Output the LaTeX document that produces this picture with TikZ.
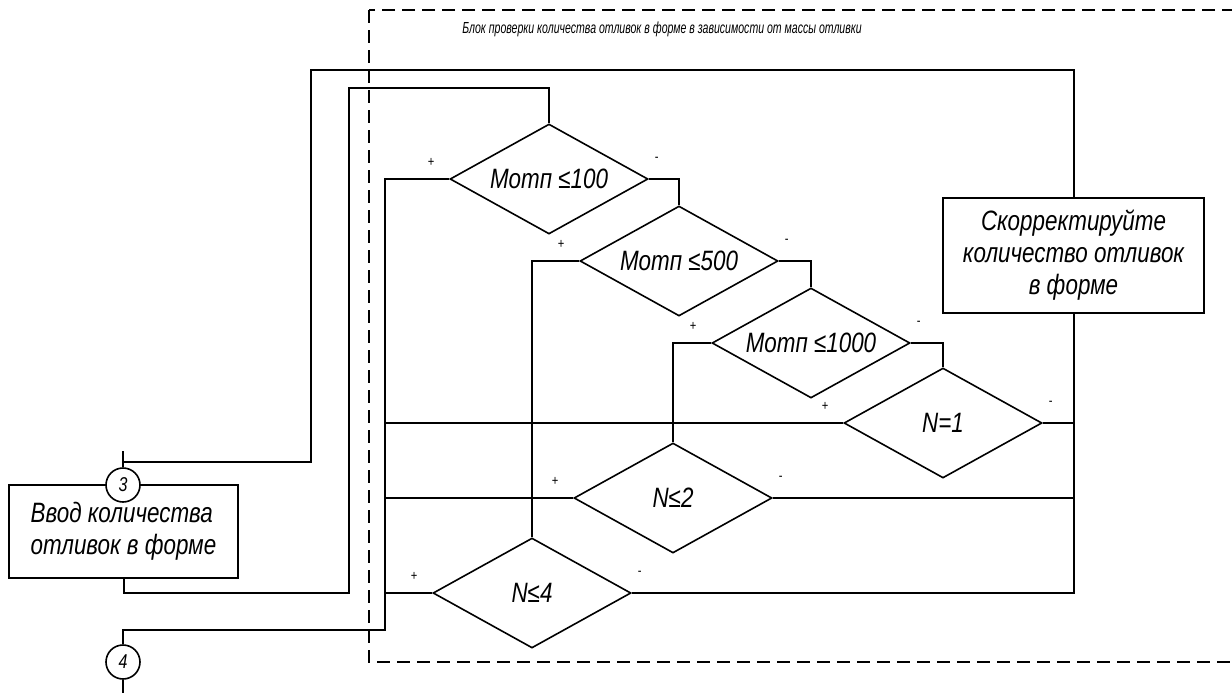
\documentclass[tikz,border=0pt]{standalone}
\usepackage{fontspec}
\setmainfont{Liberation Sans}[FakeStretch=0.8]
\newfontfamily\titlefont[FakeStretch=0.66]{Liberation Sans}
\usetikzlibrary{shapes.geometric}

\tikzset{
  ln/.style={line width=1pt},
  cond/.style={draw, diamond, aspect=1.8, inner sep=0pt, line width=0.8pt,
    minimum width=99pt, minimum height=55pt, font=\fontsize{14}{16}\selectfont\itshape},
  blk/.style={draw, rectangle, line width=1pt, inner sep=0pt,
    font=\fontsize{14}{16}\selectfont\itshape},
  conn/.style={draw, circle, fill=white, line width=0.8pt, minimum size=17pt, inner sep=0pt,
    font=\fontsize{10}{12}\selectfont\itshape},
  sign/.style={inner sep=0pt, font=\fontsize{7}{8}\selectfont},
  frame/.style={dash pattern=on 6.5pt off 3.5pt, line width=1pt}
}

\begin{document}
\begin{tikzpicture}[x=0.5pt, y=-0.5pt]
	\useasboundingbox (0,0) rectangle (1232,692);
	\clip (0,0) rectangle (1232,692);
	
	% 1. рамка блока и заголовок
	\draw[frame] (369,10) rectangle (1260,662);
	\node[font=\titlefont\fontsize{8}{9}\selectfont\itshape] (title) at (662,29)
		{Блок проверки количества отливок в форме в зависимости от массы отливки};
	
	% 2. вспомогательные вертикали
	\coordinate (lft) at (385,0);
	\coordinate (rgt) at (1075,0);
	
	% 3. блоки и соединители
	\node[blk, minimum width=114.5pt, minimum height=46.5pt, align=left] (inp) at (123.5,531.5)
		{Ввод количества\\отливок в форме};
	\node[blk, minimum width=130.5pt, minimum height=57.5pt, align=center] (corr) at (1073.5,255.5)
		{Скорректируйте\\количество отливок\\в форме};
	\node[conn] (c3) at (123,485) {3};
	\node[conn] (c4) at (123,662) {4};
	
	% 4. условия
	\node[cond] (d1) at (549,179) {Мотп ≤100};
	\node[cond] (d2) at (679,261) {Мотп ≤500};
	\node[cond] (d3) at (811,343) {Мотп ≤1000};
	\node[cond] (d4) at (943,423) {N=1};
	\node[cond] (d5) at (673,498) {N≤2};
	\node[cond] (d6) at (532,593) {N≤4};
	
	% 5. знаки ветвей
	\foreach \d in {d1,d2,d3,d4,d5,d6} {
		\node[sign] (\d p) at ([shift={(-18,-17)}]\d.west) {+};
		\node[sign] (\d m) at ([shift={(8,-20)}]\d.east) {-};
	}
	
	% 6. линии связи
	\draw[ln] (corr.north) |- (311,70) |- (c3.north |- 0,462);
	\draw[ln] (c3.north) -- ++(0,-16);
	\draw[ln] (inp.south) |- (349,593) |- (d1.north |- 0,88) -- (d1.north);
	\draw[ln] (d1.west) -| (385,630) -| (c4.north);
	\draw[ln] (c4.south) -- ++(0,20);
	
	\draw[ln] (d1.east) -| (d2.north);
	\draw[ln] (d2.west) -| (d6.north);
	\draw[ln] (d2.east) -| (d3.north);
	\draw[ln] (d3.west) -| (d5.north);
	\draw[ln] (d3.east) -| (d4.north);
	
	\draw[ln] (d4.west) -- (d4.west -| lft);
	\draw[ln] (d4.east) -- (d4.east -| rgt);
	\draw[ln] (d5.west) -- (d5.west -| lft);
	\draw[ln] (d5.east) -- (d5.east -| rgt);
	\draw[ln] (d6.west) -- (d6.west -| lft);
	\draw[ln] (d6.east) -| (corr.south);
\end{tikzpicture}
\end{document}
